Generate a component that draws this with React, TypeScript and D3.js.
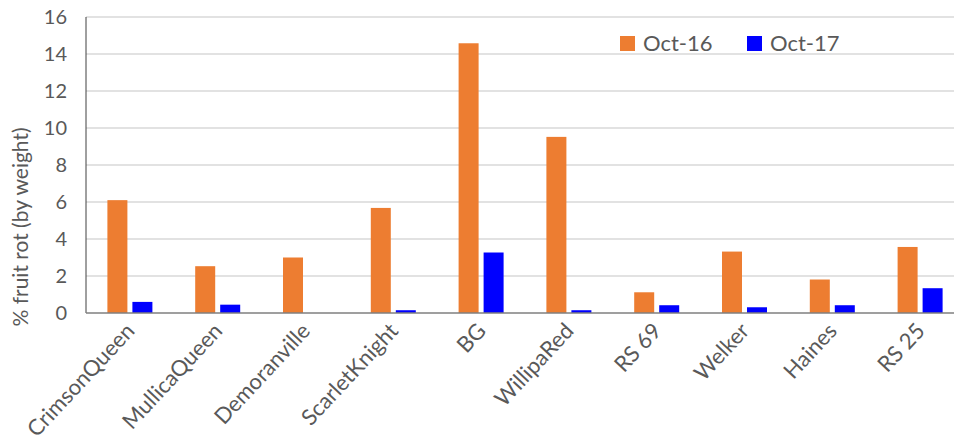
import { useRef, useEffect } from 'react'
import * as d3 from 'd3'

// values
const categories = ['CrimsonQueen', 'MullicaQueen', 'Demoranville', 'ScarletKnight', 'BG', 'WillipaRed', 'RS 69', 'Welker', 'Haines', 'RS 25']
const oct16 = [6.1, 2.53, 3.0, 5.68, 14.58, 9.52, 1.12, 3.32, 1.81, 3.57]
const oct17 = [0.6, 0.45, 0, 0.15, 3.27, 0.15, 0.42, 0.31, 0.42, 1.34]
const seriesNames = ['Oct-16', 'Oct-17']
const seriesColors = ['#ed7d31', '#0000ff']
const yTicks = [0, 2, 4, 6, 8, 10, 12, 14, 16]

const WIDTH = 954
const HEIGHT = 446
const FONT = 'Lato, "Open Sans", sans-serif'

export default function App() {
  const svgRef = useRef<SVGSVGElement | null>(null)

  useEffect(() => {
    if (!svgRef.current) return
    const svg = d3.select(svgRef.current)
    svg.selectAll('*').remove()

    const margin = { top: 17, left: 86, bottom: 133 }
    const plotRight = 964
    const plotBottom = HEIGHT - margin.bottom

    const x = d3.scaleBand<string>()
      .domain(categories)
      .range([margin.left, plotRight])
      .paddingInner(0)
      .paddingOuter(0)

    const y = d3.scaleLinear()
      .domain([0, 16])
      .range([plotBottom, margin.top])

    // gridlines
    svg.append('g')
      .selectAll('line')
      .data(yTicks.filter(d => d > 0))
      .enter()
      .append('line')
      .attr('x1', margin.left)
      .attr('x2', plotRight)
      .attr('y1', d => y(d))
      .attr('y2', d => y(d))
      .attr('stroke', '#d9d9d9')
      .attr('stroke-width', 1.3)

    // y tick labels
    svg.append('g')
      .selectAll('text')
      .data(yTicks)
      .enter()
      .append('text')
      .attr('x', 67)
      .attr('y', d => y(d))
      .attr('dy', '0.36em')
      .attr('text-anchor', 'end')
      .attr('fill', '#595959')
      .attr('font-family', FONT)
      .attr('font-size', 20)
      .text(d => d)

    // y axis title
    svg.append('text')
      .attr('transform', `translate(28,227) rotate(-90)`)
      .attr('text-anchor', 'middle')
      .attr('fill', '#595959')
      .attr('font-family', FONT)
      .attr('font-size', 21)
      .text('% fruit rot (by weight)')

    // bars
    const barW = 20
    const gap = 5
    const series = [oct16, oct17]
    series.forEach((vals, si) => {
      svg.append('g')
        .selectAll('rect')
        .data(vals)
        .enter()
        .append('rect')
        .attr('x', (_, i) => {
          const c = (x(categories[i]) ?? 0) + x.bandwidth() / 2
          return si === 0 ? c - gap / 2 - barW : c + gap / 2
        })
        .attr('width', barW)
        .attr('y', d => y(d))
        .attr('height', d => plotBottom - y(d))
        .attr('fill', seriesColors[si])
    })

    // axis lines
    svg.append('line')
      .attr('x1', margin.left)
      .attr('x2', margin.left)
      .attr('y1', margin.top)
      .attr('y2', plotBottom)
      .attr('stroke', '#404040')
      .attr('stroke-width', 1)
    svg.append('line')
      .attr('x1', margin.left)
      .attr('x2', plotRight)
      .attr('y1', plotBottom)
      .attr('y2', plotBottom)
      .attr('stroke', '#7f7f7f')
      .attr('stroke-width', 1.5)

    // x labels, rotated
    svg.append('g')
      .selectAll('text')
      .data(categories)
      .enter()
      .append('text')
      .attr('transform', d => `translate(${(x(d) ?? 0) + x.bandwidth() / 2 + 6},${plotBottom + 19}) rotate(-47)`)
      .attr('text-anchor', 'end')
      .attr('fill', '#595959')
      .attr('font-family', FONT)
      .attr('font-size', 22)
      .text(d => d)

    // legend
    const legend = svg.append('g')
    const legendX = [620, 747]
    seriesNames.forEach((name, i) => {
      legend.append('rect')
        .attr('x', legendX[i])
        .attr('y', 36)
        .attr('width', 15)
        .attr('height', 15)
        .attr('fill', seriesColors[i])
      legend.append('text')
        .attr('x', legendX[i] + 23)
        .attr('y', 51)
        .attr('fill', '#595959')
        .attr('font-family', FONT)
        .attr('font-size', 22)
        .text(name)
    })
  }, [])

  return (
    <svg
      ref={svgRef}
      width={WIDTH}
      height={HEIGHT}
      style={{ position: 'absolute', left: 0, top: 0, background: '#fff' }}
    />
  )
}
